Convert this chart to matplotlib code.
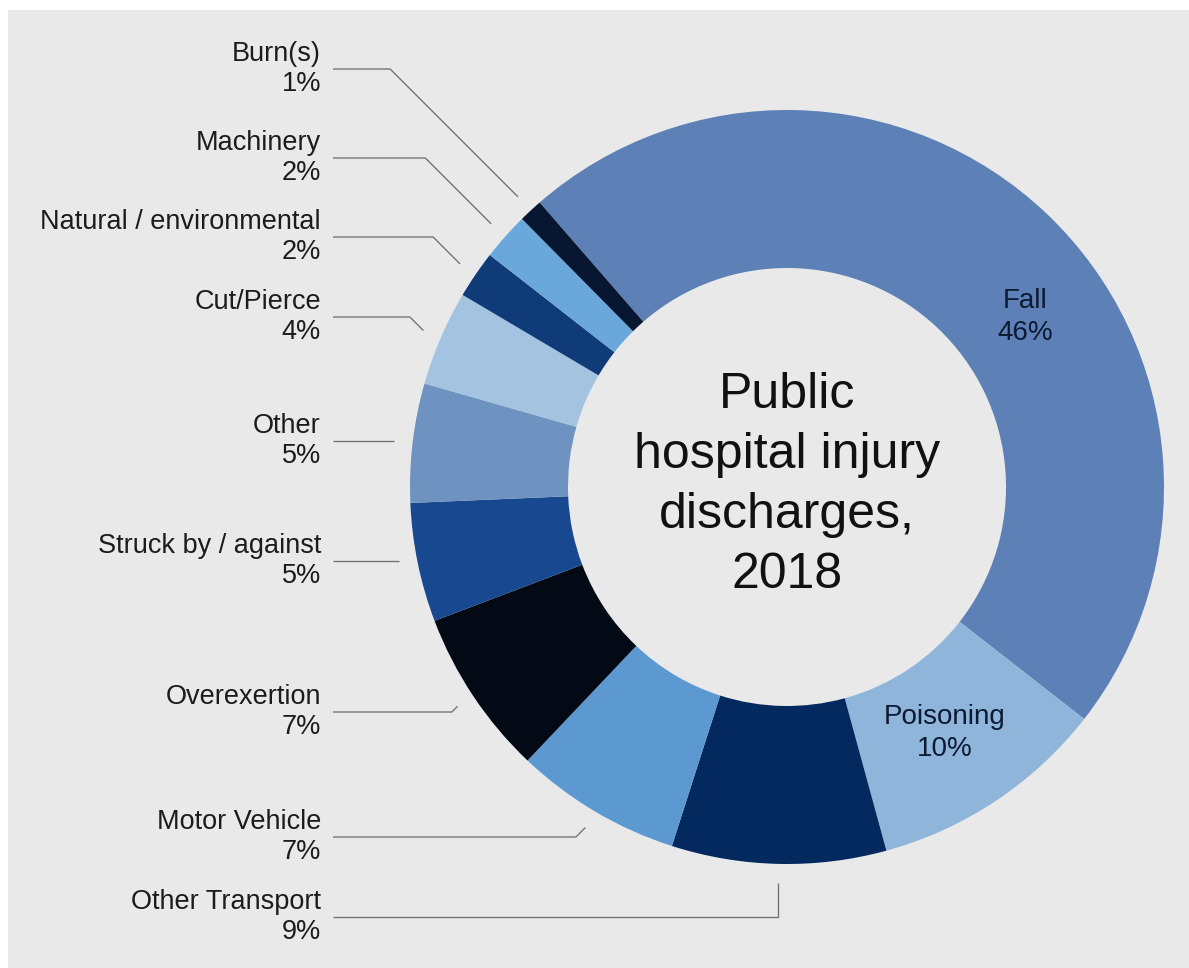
import numpy as np
import matplotlib
matplotlib.use("Agg")
import matplotlib.pyplot as plt
from matplotlib.patches import Rectangle

plt.rcParams['font.family'] = ['Liberation Sans', 'DejaVu Sans']

# Injury causes, share of public hospital discharges (%)
categories = ["Fall", "Poisoning", "Other Transport", "Motor Vehicle", "Overexertion",
              "Struck by / against", "Other", "Cut/Pierce", "Natural / environmental",
              "Machinery", "Burn(s)"]
shares = [46, 10, 9, 7, 7, 5, 5, 4, 2, 2, 1]
colors = ["#5d81b6", "#90b5da", "#03295f", "#5c99d1", "#030915",
          "#18488f", "#6f93c0", "#a3c3e1", "#0f3b79", "#6aa7db", "#071732"]
center_title = "Public\nhospital injury\ndischarges,\n2018"

# Labels drawn inside the ring vs. outside with leader lines
inside = {"Fall": -11.0, "Poisoning": -1.0}  # angular nudge in degrees
# outside label: (vertical position in px from top, leader style)
outside = {
    "Burn(s)": (69, "diag"),
    "Machinery": (158, "diag"),
    "Natural / environmental": (237, "diag"),
    "Cut/Pierce": (317, "diag"),
    "Other": (441, "flat"),
    "Struck by / against": (561, "flat"),
    "Overexertion": (712, "diag"),
    "Motor Vehicle": (837, "diag"),
    "Other Transport": (917, "vert"),
}

W, H = 1189, 968
fig = plt.figure(figsize=(W / 100, H / 100), dpi=100, facecolor="white")
ax = fig.add_axes([0, 0, 1, 1])

def Y(y):
    return H - y

cx, cy = 787, Y(487)
R_out, R_in = 377, 219

wedges, _ = ax.pie(shares, colors=colors, startangle=131, counterclock=False,
                   radius=R_out, center=(cx, cy),
                   wedgeprops=dict(width=R_out - R_in, linewidth=0))
for w in wedges:
    w.set_zorder(2)

ax.set_xlim(0, W)
ax.set_ylim(0, H)
ax.set_aspect("auto")
ax.axis("off")

# grey panel behind the chart
ax.add_patch(Rectangle((8, 0), W - 8, H - 10, facecolor="#e9e9e9",
                       edgecolor="none", zorder=0))

line_kw = dict(color="#707070", lw=0.95, zorder=1, solid_capstyle="butt")
label_x, line_x0 = 321, 333

for name, val, w in zip(categories, shares, wedges):
    mid = np.deg2rad((w.theta1 + w.theta2) / 2)
    if name in inside:
        a = mid + np.deg2rad(inside[name])
        r = (R_out + R_in) / 2 - 6
        ax.text(cx + r * np.cos(a), cy + r * np.sin(a), f"{name}\n{val}%",
                ha="center", va="center", fontsize=20, color="#0c1a33",
                linespacing=1.3, zorder=3)
        continue
    ly, style = outside[name]
    ly = Y(ly)
    ex = cx + 1.05 * R_out * np.cos(mid)
    ey = cy + 1.05 * R_out * np.sin(mid)
    if style == "diag":
        bx = ex - abs(ey - ly)
        ax.plot([line_x0, bx, ex], [ly, ly, ey], **line_kw)
    elif style == "flat":
        ax.plot([line_x0, ex], [ly, ly], **line_kw)
    else:
        ax.plot([line_x0, ex, ex], [ly, ly, ey], **line_kw)
    ax.text(label_x, ly, f"{name}\n{val}%", ha="right", va="center",
            fontsize=19.5, color="#1c1c1c", linespacing=1.2, zorder=3)

ax.text(cx, cy + 2, center_title, ha="center", va="center", fontsize=36,
        color="#111111", linespacing=1.38, zorder=3)

fig.savefig("out.png", dpi=100, facecolor="white")
